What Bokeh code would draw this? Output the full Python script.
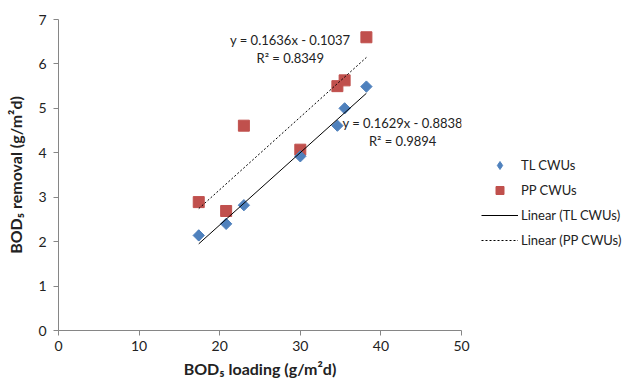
from bokeh.plotting import figure
from bokeh.models import Range1d, Legend, LegendItem, Label, FixedTicker
from bokeh.embed import file_html
from bokeh.resources import INLINE
import math

# Data
tl_x = [17.4, 20.8, 23.0, 30.0, 34.6, 35.5, 38.2]
tl_y = [2.14, 2.40, 2.82, 3.92, 4.61, 5.00, 5.49]
pp_x = [17.4, 20.8, 23.0, 30.0, 34.6, 35.5, 38.2]
pp_y = [2.89, 2.69, 4.61, 4.07, 5.50, 5.63, 6.60]
tl_slope, tl_intercept, tl_r2 = 0.1629, -0.8838, 0.9894
pp_slope, pp_intercept, pp_r2 = 0.1636, -0.1037, 0.8349
x_ticks = [0, 10, 20, 30, 40, 50]
y_ticks = [0, 1, 2, 3, 4, 5, 6, 7]

FONT = "Lato"
GRAY = "#868686"

p = figure(frame_width=403, frame_height=311, output_backend="svg", toolbar_location=None,
           x_range=Range1d(0, 50), y_range=Range1d(0, 7),
           min_border_left=58, min_border_top=19, min_border_right=161, min_border_bottom=48)
p.outline_line_color = None
p.grid.visible = False
p.background_fill_color = "white"

for ax in (p.xaxis[0], p.yaxis[0]):
    ax.axis_line_color = GRAY
    ax.major_tick_line_color = GRAY
    ax.minor_tick_line_color = None
    ax.major_tick_in = 0
    ax.major_tick_out = 5
    ax.major_label_text_font = FONT
    ax.major_label_text_font_size = "14px"
    ax.major_label_text_color = "#222222"
    ax.axis_label_text_font = FONT
    ax.axis_label_text_font_size = "16px"
    ax.axis_label_text_font_style = "bold"
    ax.axis_label_text_color = "#222222"

p.xaxis.ticker = FixedTicker(ticks=x_ticks)
p.yaxis.ticker = FixedTicker(ticks=y_ticks)
p.xaxis.axis_label = "BOD₅ loading (g/m²d)"
p.yaxis.axis_label = "BOD₅ removal (g/m²d)"
p.xaxis.major_label_standoff = 5
p.xaxis.axis_label_standoff = 5
p.yaxis.major_label_standoff = 7
p.yaxis.axis_label_standoff = 10

BLUE = "#4F81BD"
RED = "#C0504D"

def fit_line(xs, slope, intercept):
    x0, x1 = min(xs), max(xs)
    return [x0, x1], [slope * x0 + intercept, slope * x1 + intercept]

tlx, tly = fit_line(tl_x, tl_slope, tl_intercept)
ppx, ppy = fit_line(pp_x, pp_slope, pp_intercept)

# legend key for the diamond marker (legend glyphs ignore rotation); sits hidden
# beneath the first TL point
r_tl_key = p.scatter(tl_x[:1], tl_y[:1], marker="diamond", size=11,
                     fill_color=BLUE, line_color=BLUE)
r_pp = p.scatter(pp_x, pp_y, marker="square", size=11, fill_color=RED, line_color=RED)
r_tl = p.scatter(tl_x, tl_y, marker="square", size=8, angle=math.pi / 4,
                 fill_color=BLUE, line_color=BLUE)
r_tll = p.line(tlx, tly, line_color="black", line_width=1)
r_ppl = p.line(ppx, ppy, line_color="black", line_width=1, line_dash="2 2")

def eq_text(slope, intercept):
    sign = "-" if intercept < 0 else "+"
    return f"y = {slope:.4f}x {sign} {abs(intercept):.4f}"

labels = [
    (28.75, 6.53, eq_text(pp_slope, pp_intercept)),
    (28.75, 6.14, f"R² = {pp_r2:.4f}"),
    (42.7, 4.66, eq_text(tl_slope, tl_intercept)),
    (42.7, 4.26, f"R² = {tl_r2:.4f}"),
]
for lx, ly, t in labels:
    p.add_layout(Label(x=lx, y=ly, text=t, text_font=FONT, text_font_size="13px",
                       text_align="center", text_baseline="middle", text_color="#222222"))

legend = Legend(items=[
    LegendItem(label="TL CWUs", renderers=[r_tl_key]),
    LegendItem(label="PP CWUs", renderers=[r_pp]),
    LegendItem(label="Linear (TL CWUs)", renderers=[r_tll]),
    LegendItem(label="Linear (PP CWUs)", renderers=[r_ppl]),
], location=(20, 80), border_line_color=None, background_fill_alpha=0,
   label_text_font=FONT, label_text_font_size="13px", label_text_color="#222222",
   glyph_width=37, glyph_height=20, label_standoff=3, spacing=5, padding=0, margin=0)
p.add_layout(legend, "right")

open("out.html", "w").write(file_html(p, INLINE))
